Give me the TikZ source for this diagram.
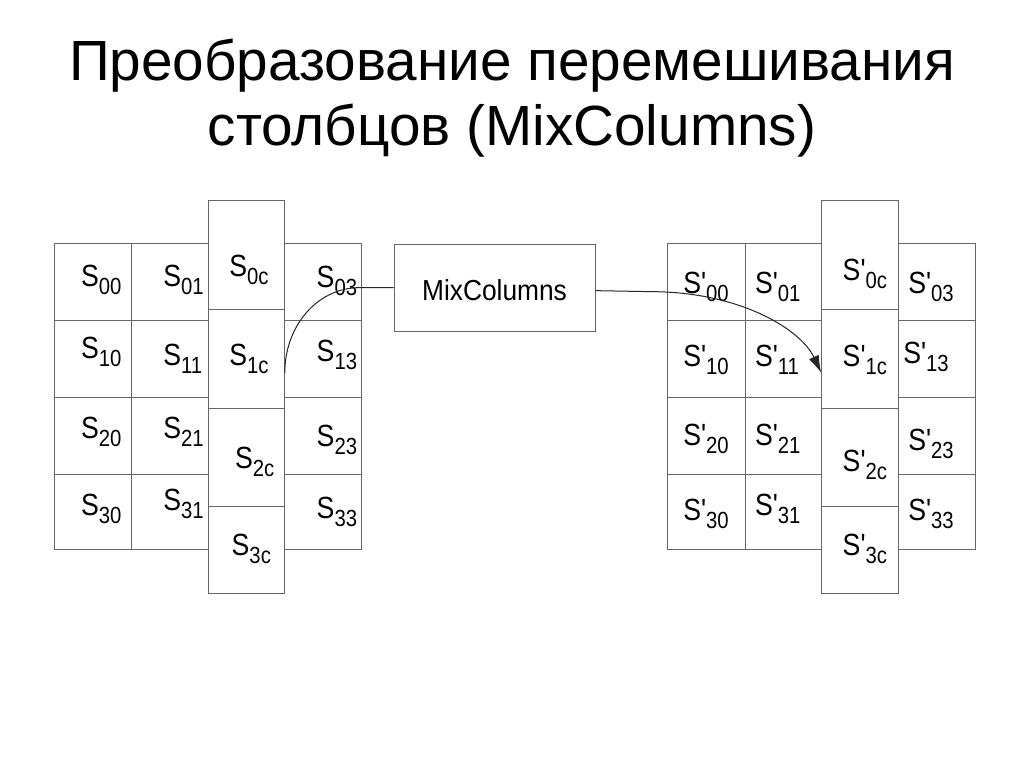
\documentclass[tikz,border=0pt]{standalone}
\usepackage{fontspec}
\setmainfont{Liberation Sans}
\newfontfamily\labfont[FakeStretch=0.87]{Liberation Sans}
\newfontfamily\mixfont[FakeStretch=0.91]{Liberation Sans}
\usetikzlibrary{arrows.meta,calc,fit}
\newcommand{\Slab}[2]{{\labfont\fontsize{23}{23}\selectfont S#1\raisebox{-6pt}{\fontsize{17.5}{17.5}\selectfont #2}}}
\tikzset{
  gridline/.style={draw=black!60, line width=0.75pt},
  colbox/.style={draw=black!60, line width=0.75pt, fill=white, inner sep=0pt, rectangle},
  lab/.style={anchor=base west, inner sep=0pt, outer sep=0pt},
  conn/.style={draw=black!85, line width=0.75pt},
  mixbox/.style={draw=black!60, line width=0.75pt, fill=white, inner sep=0pt, rectangle},
  titletext/.style={anchor=base, inner sep=0pt, font=\fontsize{42.5}{48}\selectfont}
}
\begin{document}
\begin{tikzpicture}[x=0.75pt,y=-0.75pt]
\useasboundingbox[fill=white] (0,0) rectangle (1024,767);
% title
\node[titletext] (title1) at (512,80.7) {Преобразование перемешивания};
\node[titletext] (title2) at (512,145) {столбцов (MixColumns)};
% left grid cells (columns 0,1,3)
\foreach \xa/\xb in {54/131, 131/208, 284.3/361}{
  \foreach \ya/\yb in {243.3/320.7, 320.7/397.3, 397.3/474, 474/549.3}{
    \draw[gridline] (\xa,\ya) rectangle (\xb,\yb);
  }
}
% right grid cells
\foreach \xa/\xb in {667.7/745, 745/821.7, 898.3/975}{
  \foreach \ya/\yb in {243.3/320.7, 320.7/397.3, 397.3/474, 474/549.3}{
    \draw[gridline] (\xa,\ya) rectangle (\xb,\yb);
  }
}
% left middle column boxes
\node[colbox, fit={(208,200.7) (284.3,309.3)}] (lc0) {};
\node[colbox, fit={(208,309.3) (284.3,408.3)}] (lc1) {};
\node[colbox, fit={(208,408.3) (284.3,506)}] (lc2) {};
\node[colbox, fit={(208,506) (284.3,593.3)}] (lc3) {};
% right middle column boxes
\node[colbox, fit={(821.7,200.7) (898.3,309.3)}] (rc0) {};
\node[colbox, fit={(821.7,309.3) (898.3,408.3)}] (rc1) {};
\node[colbox, fit={(821.7,408.3) (898.3,506)}] (rc2) {};
\node[colbox, fit={(821.7,506) (898.3,593.3)}] (rc3) {};
% MixColumns box
\node[mixbox, fit={(394,244.3) (595,331)}] (mix) {};
\node[anchor=base, inner sep=0pt, font=\mixfont\fontsize{21.7}{22}\selectfont] (mixtext) at (494.5,300) {MixColumns};
% left labels
\node[lab] (s00) at (81,286.7) {\Slab{}{00}};
\node[lab] (s01) at (163.3,286.7) {\Slab{}{01}};
\node[lab] (s0c) at (229.3,276.7) {\Slab{}{0c}};
\node[lab] (s03) at (316.7,287) {\Slab{}{03}};
\node[lab] (s10) at (81,358) {\Slab{}{10}};
\node[lab] (s11) at (163.3,365) {\Slab{}{11}};
\node[lab] (s1c) at (229.3,365) {\Slab{}{1c}};
\node[lab] (s13) at (316.7,361.7) {\Slab{}{13}};
\node[lab] (s20) at (81,438.3) {\Slab{}{20}};
\node[lab] (s21) at (163.3,438.3) {\Slab{}{21}};
\node[lab] (s2c) at (235,468.3) {\Slab{}{2c}};
\node[lab] (s23) at (316.7,446.7) {\Slab{}{23}};
\node[lab] (s30) at (81,515) {\Slab{}{30}};
\node[lab] (s31) at (163.3,510) {\Slab{}{31}};
\node[lab] (s3c) at (231.7,555) {\Slab{}{3c}};
\node[lab] (s33) at (316.7,518.3) {\Slab{}{33}};
% right labels
\node[lab] (p00) at (683.3,293.3) {\Slab{'}{00}};
\node[lab] (p01) at (755,293.3) {\Slab{'}{01}};
\node[lab] (p0c) at (842.7,280) {\Slab{'}{0c}};
\node[lab] (p03) at (908.3,293.3) {\Slab{'}{03}};
\node[lab] (p10) at (683.3,366.7) {\Slab{'}{10}};
\node[lab] (p11) at (755,366.7) {\Slab{'}{11}};
\node[lab] (p1c) at (842.7,366.7) {\Slab{'}{1c}};
\node[lab] (p13) at (903.3,363.3) {\Slab{'}{13}};
\node[lab] (p20) at (683.3,445) {\Slab{'}{20}};
\node[lab] (p21) at (755,445) {\Slab{'}{21}};
\node[lab] (p2c) at (842.7,471.7) {\Slab{'}{2c}};
\node[lab] (p23) at (908.3,450) {\Slab{'}{23}};
\node[lab] (p30) at (683.3,520) {\Slab{'}{30}};
\node[lab] (p31) at (755,515) {\Slab{'}{31}};
\node[lab] (p3c) at (842.7,555) {\Slab{'}{3c}};
\node[lab] (p33) at (908.3,520) {\Slab{'}{33}};
% connectors
\draw[conn] (mix.west) -- ++(-34,0) .. controls +(-42,0) and +(0,-47) .. ($(lc1.east)+(0,14)$);
\draw[conn, -{Latex[length=13pt,width=8pt]}] ($(mix.east)+(0,3)$) -- ++(55,1) .. controls +(90,0) and +(-20,-43) .. ($(rc1.west)+(0,14)$);
\end{tikzpicture}
\end{document}
